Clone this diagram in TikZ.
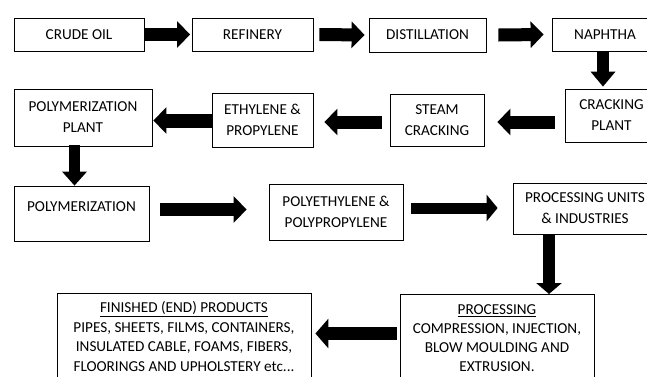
\documentclass[tikz,border=0pt]{standalone}
\usepackage{fontspec}
\setmainfont{Carlito}
\usetikzlibrary{arrows.meta,shadows}
\begin{document}
\begin{tikzpicture}[x=1pt,y=-1pt,
  box/.style={draw=black,line width=0.8pt,fill=white,inner sep=0pt,align=center,
    font=\fontsize{15.2}{21}\selectfont,
    drop shadow={shadow xshift=1.3pt,shadow yshift=-1.3pt,fill=black!45,opacity=1}},
  blk/.style={line width=13pt,-{Triangle[width=26pt,length=13pt]}}]
\useasboundingbox (0,0) rectangle (647,376);
\clip (0,0) rectangle (647,376);
\fill[white] (0,0) rectangle (647,376);
% row 1
\node[box,minimum width=130,minimum height=33] (crude) at (79,34.5) {CRUDE OIL};
\node[box,minimum width=121,minimum height=33] (refin) at (252.5,34.5) {REFINERY};
\node[box,minimum width=117,minimum height=34] (dist) at (427.5,35) {DISTILLATION};
\node[box,minimum width=106,minimum height=33] (naph) at (605,34.5) {NAPHTHA};
% row 2
\node[box,minimum width=93,minimum height=53] (crack) at (611.5,115.5) {CRACKING\\PLANT};
\node[box,minimum width=94,minimum height=52] (steam) at (437,120) {STEAM\\CRACKING};
\node[box,minimum width=101,minimum height=54] (eth) at (262.5,120) {ETHYLENE \&\\PROPYLENE};
\node[box,minimum width=138,minimum height=57] (pplant) at (83,117.5) {POLYMERIZATION\\PLANT};
% row 3
\node[box,minimum width=135,minimum height=55,text depth=14.8pt] (polym) at (81.5,213.5) {POLYMERIZATION};
\node[box,minimum width=134,minimum height=56] (pe) at (336,212) {POLYETHYLENE \&\\POLYPROPYLENE};
\node[box,minimum width=144,minimum height=51] (pu) at (585,208.5) {PROCESSING UNITS\\\& INDUSTRIES};
% row 4
\node[box,anchor=north,minimum width=194,inner ysep=10.5pt,font=\fontsize{15.2}{19}\selectfont] (proc) at (497,294)
  {\underline{PROCESSING}\\COMPRESSION, INJECTION,\\BLOW MOULDING AND\\EXTRUSION.\\~};
\node[box,anchor=north,minimum width=254,inner ysep=8pt,font=\fontsize{15.2}{19.7}\selectfont] (fin) at (184,293)
  {\underline{FINISHED (END) PRODUCTS}\\PIPES, SHEETS, FILMS, CONTAINERS,\\INSULATED CABLE, FOAMS, FIBERS,\\FLOORINGS AND UPHOLSTERY etc...\\~};
% arrows
\draw[blk] (crude.east) -- ([xshift=-1.5pt]refin.west);
\draw[blk] ([xshift=6pt]refin.east) -- ([xshift=-4pt]dist.west);
\draw[blk] ([xshift=12pt]dist.east) -- ([xshift=-8pt]naph.west);
\draw[blk,line width=12pt,-{Triangle[width=24pt,length=15pt]}] ([shift={(-2,0)}]naph.south) -- ([shift={(-8.5,-2)}]crack.north);
\draw[blk] ([shift={(-10,6.5)}]crack.west) -- ([shift={(13,2)}]steam.east);
\draw[blk] ([shift={(-8,2)}]steam.west) -- ([shift={(11,2)}]eth.east);
\draw[blk,line width=14pt] ([shift={(0,0.5)}]eth.west) -- ([shift={(1,3)}]pplant.east);
\draw[blk,line width=11pt,-{Triangle[width=24pt,length=14pt]}] ([shift={(-8.5,-1)}]pplant.south) -- ([shift={(-7,0)}]polym.north);
\draw[blk] ([shift={(11,-4)}]polym.east) -- ([shift={(-22,-2.5)}]pe.west);
\draw[blk,line width=11pt,-{Triangle[width=26pt,length=11pt]}] ([shift={(8,-4)}]pe.east) -- ([shift={(-15,-0.5)}]pu.west);
\draw[blk,line width=12pt,-{Triangle[width=25pt,length=11pt]}] ([shift={(-36,0)}]pu.south) -- ([shift={(52,0)}]proc.north);
\draw[blk,-{Triangle[width=29pt,length=13pt]}] ([shift={(-3,39.5)}]proc.north west) -- ([shift={(4,40.5)}]fin.north east);
\end{tikzpicture}
\end{document}
